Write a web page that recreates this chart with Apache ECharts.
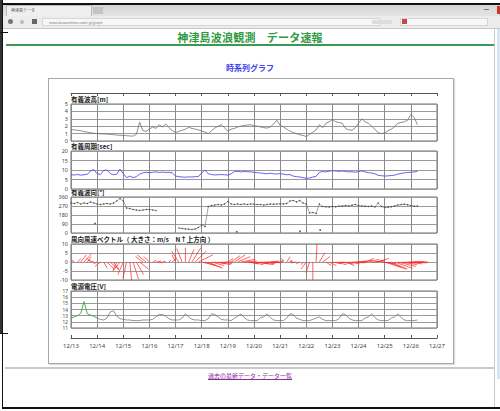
<!DOCTYPE html>
<html><head><meta charset="utf-8">
<script src="https://cdn.jsdelivr.net/npm/echarts@6/dist/echarts.min.js"></script>
<style>
html,body{margin:0;padding:0;width:500px;height:411px;overflow:hidden;background:#fff;font-family:"Noto Sans CJK JP","Noto Sans",sans-serif;}
.a{position:absolute;}
</style></head><body>
<!-- window / browser decoration -->
<div class="a" style="left:0;top:0;width:3px;height:333px;background:#333"></div>
<div class="a" style="left:2px;top:0;width:1px;height:409px;background:#111"></div>
<div class="a" style="left:0;top:32px;width:8px;height:1px;background:#111"></div>
<div class="a" style="left:0;top:333px;width:8px;height:1px;background:#111"></div>
<div class="a" style="left:2px;top:3px;width:498px;height:2px;background:#111"></div>
<div class="a" style="left:2px;top:407px;width:498px;height:2px;background:#111"></div>
<div class="a" style="left:3px;top:5px;width:497px;height:11px;background:linear-gradient(#d4d4d4,#e4e4e4)"></div>
<div class="a" style="left:6px;top:5px;width:86px;height:11px;background:#efefef;border:1px solid #bbb;border-bottom:none;box-sizing:border-box;font-size:4px;line-height:9px;color:#555;padding-left:4px">神津島データ</div>
<div class="a" style="left:93px;top:7px;width:10px;height:7px;background:#c4c4c4"></div>
<div class="a" style="left:484px;top:9px;width:5px;height:1px;background:#777"></div>
<div class="a" style="left:497px;top:6px;width:3px;height:8px;background:#c33"></div>
<div class="a" style="left:3px;top:16px;width:497px;height:12px;background:#ececec;border-bottom:1px solid #c8c8c8"></div>
<div class="a" style="left:8px;top:19px;width:5px;height:5px;border-radius:3px;background:#777"></div>
<div class="a" style="left:20px;top:20px;width:4px;height:4px;border-radius:2px;background:#bbb"></div>
<div class="a" style="left:32px;top:19px;width:5px;height:5px;background:#666"></div>
<div class="a" style="left:42px;top:18px;width:338px;height:8px;background:#f7f7f7;border:1px solid #d6d6d6;font-size:3.5px;line-height:8px;color:#777;padding-left:6px;box-sizing:border-box">www.kouzushima-nami.jp/graph</div>
<div class="a" style="left:372px;top:20px;width:20px;height:4px;background:#ddd"></div>
<div class="a" style="left:400px;top:18px;width:88px;height:8px;background:#f7f7f7;border:1px solid #d6d6d6;box-sizing:border-box"></div>
<div class="a" style="left:402px;top:19px;width:5px;height:5px;background:#c44"></div>
<div class="a" style="left:494px;top:29px;width:1px;height:378px;background:#ccc"></div>
<div class="a" style="left:497px;top:29px;width:3px;height:350px;background:#d8e4ef"></div>
<!-- page -->
<div class="a" style="left:0;top:30px;width:500px;text-align:center;font-size:11px;line-height:15px;color:#2f9a3f;font-weight:bold;letter-spacing:0.2px">神津島波浪観測　データ速報</div>
<div class="a" style="left:6px;top:44px;width:488px;height:2px;background:#3a9a55"></div>
<div class="a" style="left:0;top:62px;width:500px;text-align:center;font-size:8px;line-height:11px;color:#3b3bf0;font-weight:bold">時系列グラフ</div>
<div class="a" style="left:48px;top:78px;width:404px;height:284px;border:1px solid #a8a8a8;box-shadow:1px 1px 1px #ddd"></div>
<div class="a" style="left:5px;top:367px;width:490px;height:2px;background:#c8c8c8"></div>
<div class="a" style="left:0;top:371px;width:500px;text-align:center;font-size:6px;line-height:9px;color:#8a2a9a;text-decoration:underline">過去の最新データ・データ一覧</div>
<div id="chart" class="a" style="left:0;top:0;width:500px;height:411px"></div>
<script>
// ---- data (3-hour steps from 12/13 00:00) ----
const dateLabels = ['12/13','12/14','12/15','12/16','12/17','12/18','12/19','12/20','12/21','12/22','12/23','12/24','12/25','12/26','12/27'];
const waveHeight = [1.55,1.5,1.45,1.4,1.25,1.2,1.1,1.05,1.0,0.98,0.95,0.93,0.9,0.85,0.8,0.78,0.75,0.72,0.68,0.66,
 0.9,2.55,1.4,1.3,1.6,1.9,1.7,2.2,1.9,2.3,1.8,1.4,1.15,1.3,1.45,1.6,1.85,1.7,1.6,1.5,
 1.35,1.2,1.0,1.4,1.75,2.0,2.2,1.8,1.3,1.6,1.7,1.9,2.0,2.1,2.15,2.2,2.05,2.0,1.9,1.8,
 1.75,1.9,2.3,2.8,2.1,1.9,1.6,1.35,1.15,1.0,0.85,0.75,0.6,0.9,1.2,1.5,2.2,1.8,2.4,2.6,
 2.9,2.6,2.5,2.4,1.7,1.5,1.45,1.8,2.4,3.0,2.6,2.4,2.0,1.6,1.1,1.0,1.1,1.4,1.6,1.9,
 2.4,2.5,2.6,2.8,3.6,3.2,2.2];
const wavePeriod = [7.5,7.4,7.6,7.3,7.5,7.8,9.5,10.2,8.0,7.6,9.8,10.0,8.2,7.5,7.8,10.5,8.0,6.0,6.8,6.0,
 6.5,7.8,8.5,8.8,8.6,8.8,9.0,8.7,8.9,8.7,8.8,8.5,6.8,6.5,6.3,6.2,6.4,6.3,6.5,6.6,
 8.5,10.0,8.0,7.6,7.4,7.5,7.6,7.5,7.3,8.0,9.2,9.3,9.0,9.2,9.1,9.0,8.8,8.6,8.4,8.2,
 8.0,8.3,8.0,7.9,8.1,7.8,7.5,7.6,6.8,6.5,6.3,6.0,5.6,5.8,6.3,6.6,8.8,9.2,9.0,9.4,
 9.6,9.5,9.3,9.5,9.2,9.0,9.1,8.8,9.2,9.5,9.0,8.6,8.4,8.0,7.2,7.0,6.8,6.9,7.1,7.3,
 7.8,8.2,8.5,8.7,8.8,9.0,9.2];
const waveDir = [300,295,305,290,300,295,310,300,290,285,290,295,290,300,320,345,320,250,245,235,
 230,225,230,235,235,230,225,null,null,null,null,null,null,50,45,40,38,35,40,55,
 80,65,265,275,280,285,280,290,315,290,285,290,285,290,285,290,288,285,285,280,
 285,290,288,290,292,290,295,320,325,310,325,300,290,200,205,195,290,265,262,260,
 265,262,268,270,275,270,278,285,275,270,268,265,270,260,300,265,255,258,262,270,
 280,285,288,282,275,268,270];
const dirOutliers = [[0.92,95],[6.34,13],[8.76,17],[9.53,30]];
const windU = [1,-1,2,3,4,2,-2,-3,-2,-3,2,4,5,3,-2,-4,-3,-2,1,3,
 4,5,-4,-5,-3,2,3,2,1,-1,1,2,-2,-4,-3,0,3,5,6,8,
 8,9,8,7,6,7,6,5,3,5,6,7,8,7,6,7,8,9,8,7,
 6,5,4,3,2,-1,2,1,-2,-3,-2,-1,-3,-2,0,0.5,3,4,3,4,
 5,6,5,6,5,6,7,6,5,6,5,6,7,5,6,8,9,10,9,10,
 10,9,10,9,8,7,6];
const windV = [0.5,1,2,4,4.5,3,2,1,-1,-2.5,-3.5,-4,-4.5,-4,-4.5,-5,-7,-9,-10,-9.5,
 -7,-4,3,4,3,1,0.5,-0.5,0.3,0.5,1,2,4,6,7.5,8,7,8,6,4,
 -2,-3,-3.5,-2,-1,-1.5,-1,0,2,3.5,4,3,1.5,0.5,-1,-1.5,-1,-1.5,-1,-0.5,
 0,0.5,-0.5,0,1,2,3,1,0.5,-0.5,-1,-1.5,-4,-6,-10,10,5,3,-2,-2,
 -1,-1.5,-0.5,-1,-2,-1,-0.5,0.5,0,1,2,1.5,0.5,1,2,-1,-3,-4,-4,-3.5,
 -2.5,-1.5,-1,0,0,-0.5,0];
const voltage = [12.6,12.8,13.0,13.4,15.3,13.3,13.1,12.9,12.6,12.4,12.3,12.6,13.6,13.8,12.9,12.5,12.4,12.3,12.3,12.2,
 12.2,12.2,12.3,12.3,12.3,12.4,12.8,13.2,13.2,12.9,12.5,12.3,12.3,12.3,12.6,13.3,12.8,12.4,12.3,12.3,
 12.2,12.2,12.5,13.3,13.2,12.8,12.4,12.3,12.3,12.2,12.6,12.9,13.3,12.7,12.3,12.2,12.2,12.2,12.7,12.8,
 13.3,12.7,12.3,12.2,12.2,12.2,12.6,13.3,13.2,12.6,12.4,12.2,12.2,12.2,12.4,12.6,12.8,12.4,12.2,12.2,
 12.2,12.2,12.5,13.3,13.2,12.6,12.3,12.2,12.2,12.2,12.6,12.8,13.3,12.7,12.3,12.2,12.2,12.2,12.6,12.8,
 13.3,12.7,12.3,12.2,12.2,12.2,12.3];
const greenEnd = 8;
const stepDays = 0.125;
const panelTitles = ['有義波高[m]','有義周期[sec]','有義波向[°]','風向風速ベクトル（ 大きさ：m/s　N↑上方向 ）','電源電圧[V]'];

// ---- layout ----
const L = 71, W = 366;
const panels = [{top:104,h:37,min:0,max:5,iv:1,fs:5.5},{top:151,h:38,min:0,max:20,iv:5,fs:5.5},{top:197,h:36,min:0,max:360,iv:90,fs:5.5},
                {top:244,h:36,min:-10,max:10,iv:5,fs:5.5},{top:291,h:37,min:11,max:17,iv:1,fs:4.8}];
const t = waveHeight.map((_, i) => i * stepDays);
const pairs = arr => arr.map((v, i) => [t[i], v]);
const grid = panels.map(p => ({left:L, top:p.top, width:W, height:p.h, show:true, borderColor:'#707070', borderWidth:1}));
grid.push({left:L, top:92, width:W, height:1, show:false});
grid.push({left:L, top:337, width:W, height:1, show:false});
const xAxis = panels.map((p, i) => ({type:'value', gridIndex:i, min:0, max:14, interval:1,
  axisLine:{show:false}, axisTick:{show:false}, axisLabel:{show:false},
  splitLine:{show:true, lineStyle:{color:'#8a8a8a', width:1}}}));
xAxis.push({type:'value', gridIndex:5, position:'top', min:0, max:14, interval:1,
  axisLine:{show:true, lineStyle:{color:'#555'}}, axisTick:{show:true, inside:true, length:3, lineStyle:{color:'#555'}},
  axisLabel:{show:false}, splitLine:{show:false}});
xAxis.push({type:'value', gridIndex:6, position:'bottom', min:0, max:14, interval:1,
  axisLine:{show:true, lineStyle:{color:'#555'}}, axisTick:{show:true, inside:true, length:3, lineStyle:{color:'#555'}},
  axisLabel:{show:true, margin:5, fontSize:6, color:'#444', fontFamily:'Noto Sans', formatter: v => dateLabels[Math.round(v)] || ''},
  splitLine:{show:false}});
const yAxis = panels.map((p, i) => ({type:'value', gridIndex:i, min:p.min, max:p.max, interval:p.iv,
  axisLine:{show:false}, axisTick:{show:false},
  axisLabel:{fontSize:p.fs, lineHeight:p.fs, color:'#444', margin:3, fontFamily:'Noto Sans'},
  splitLine:{show:true, lineStyle:{color:'#9a9a9a', width:1}}}));
yAxis.push({type:'value', gridIndex:5, show:false, min:0, max:1});
yAxis.push({type:'value', gridIndex:6, show:false, min:0, max:1});

const K = (panels[3].h / 20) / (W / 14); // days per m/s so vectors are isotropic
const series = [
  {type:'line', xAxisIndex:0, yAxisIndex:0, data:pairs(waveHeight), showSymbol:false, lineStyle:{color:'#707070', width:0.8}, animation:false},
  {type:'line', xAxisIndex:1, yAxisIndex:1, data:pairs(wavePeriod), showSymbol:false, lineStyle:{color:'#5050f0', width:0.9}, animation:false},
  {type:'line', xAxisIndex:2, yAxisIndex:2, data:pairs(waveDir), connectNulls:false, showSymbol:true, showAllSymbol:true, symbol:'circle', symbolSize:1.4,
    itemStyle:{color:'#444'}, lineStyle:{color:'#666', width:0.6}, animation:false},
  {type:'scatter', xAxisIndex:2, yAxisIndex:2, data:dirOutliers, symbolSize:1.8, itemStyle:{color:'#333'}, animation:false},
  {type:'custom', xAxisIndex:3, yAxisIndex:3, data:windU.map((u, i) => [t[i], u, windV[i]]), animation:false,
    renderItem: (params, api) => {
      const tt = api.value(0), u = api.value(1), v = api.value(2);
      const p0 = api.coord([tt, 0]);
      const p1 = api.coord([tt + u * K, v]);
      return {type:'line', shape:{x1:p0[0], y1:p0[1], x2:p1[0], y2:p1[1]}, style:{stroke:'#ff2020', lineWidth:0.7}};
    }},
  {type:'line', xAxisIndex:4, yAxisIndex:4, data:pairs(voltage).slice(greenEnd), showSymbol:false, lineStyle:{color:'#777', width:0.8}, animation:false},
  {type:'line', xAxisIndex:4, yAxisIndex:4, data:pairs(voltage).slice(0, greenEnd + 1), showSymbol:false, lineStyle:{color:'#3aaa3a', width:0.9}, animation:false}
];
const graphic = panelTitles.map((s, i) => ({type:'text', left:L, top:panels[i].top - 8,
  style:{text:s, fontSize:6.5, fontWeight:'bold', fill:'#222', fontFamily:'Noto Sans CJK JP'}}));

const chart = echarts.init(document.getElementById('chart'), null, {renderer:'svg'});
chart.setOption({backgroundColor:'transparent', animation:false, grid, xAxis, yAxis, series, graphic});
</script>
</body></html>
